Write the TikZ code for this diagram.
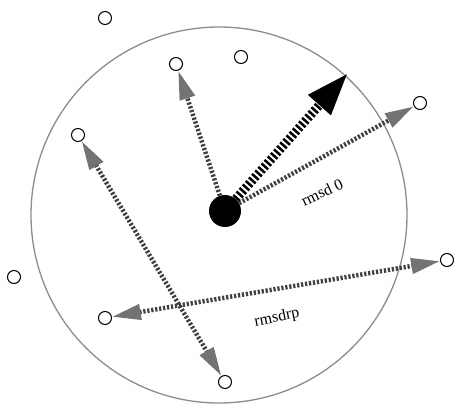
\documentclass[tikz,border=0pt]{standalone}
\usepackage{fontspec}
\setmainfont{Liberation Serif}
\usetikzlibrary{arrows.meta}
\tikzset{
  atom/.style={circle,draw=black,line width=1pt,fill=white,minimum size=13pt,inner sep=0pt},
  core/.style={circle,fill=black,minimum size=32pt,inner sep=0pt},
  dotline/.style={draw=black!75,line width=4.5pt,dash pattern=on 2.2pt off 1.8pt},
  hatchend/.style={-{Triangle[length=29pt,width=15pt,color=black!55,fill=black!55]}},
  hatchboth/.style={{Triangle[length=29pt,width=15pt,color=black!55,fill=black!55]}-{Triangle[length=29pt,width=15pt,color=black!55,fill=black!55]}},
  bigend/.style={-{Triangle[length=43pt,width=28pt,color=black,fill=black]}},
  bigline/.style={draw=black,line width=9pt,dash pattern=on 2.5pt off 2.2pt},
  lab/.style={font=\fontsize{16}{18}\selectfont,inner sep=1pt}
}
\begin{document}
\begin{tikzpicture}[x=1pt,y=-1pt]
\useasboundingbox (0,0) rectangle (456,409);
\draw[black!45,line width=1.3pt] (219,215) circle (188);
\node[atom] (a1) at (105,18) {};
\node[atom] (a2) at (241,57) {};
\node[atom] (a3) at (176,64) {};
\node[atom] (a4) at (420,103) {};
\node[atom] (a5) at (78,135) {};
\node[atom] (a6) at (14,277) {};
\node[atom] (a7) at (447,260) {};
\node[atom] (a8) at (105,318) {};
\node[atom] (a9) at (225,382) {};
\node[core] (c) at (225,211) {};
\coordinate (tip) at (348,73);
\draw[dotline,hatchend] (c) -- (a3);
\draw[dotline,hatchend] (c) -- (a4);
\draw[dotline,hatchboth] (a5) -- (a9);
\draw[dotline,hatchboth] (a8) -- (a7);
\draw[bigline,bigend] (c) -- (tip);
\node[lab,rotate=25] (l1) at (322,192) {rmsd 0};
\node[lab,rotate=11] (l2) at (277,318) {rmsdrp};
\end{tikzpicture}
\end{document}
